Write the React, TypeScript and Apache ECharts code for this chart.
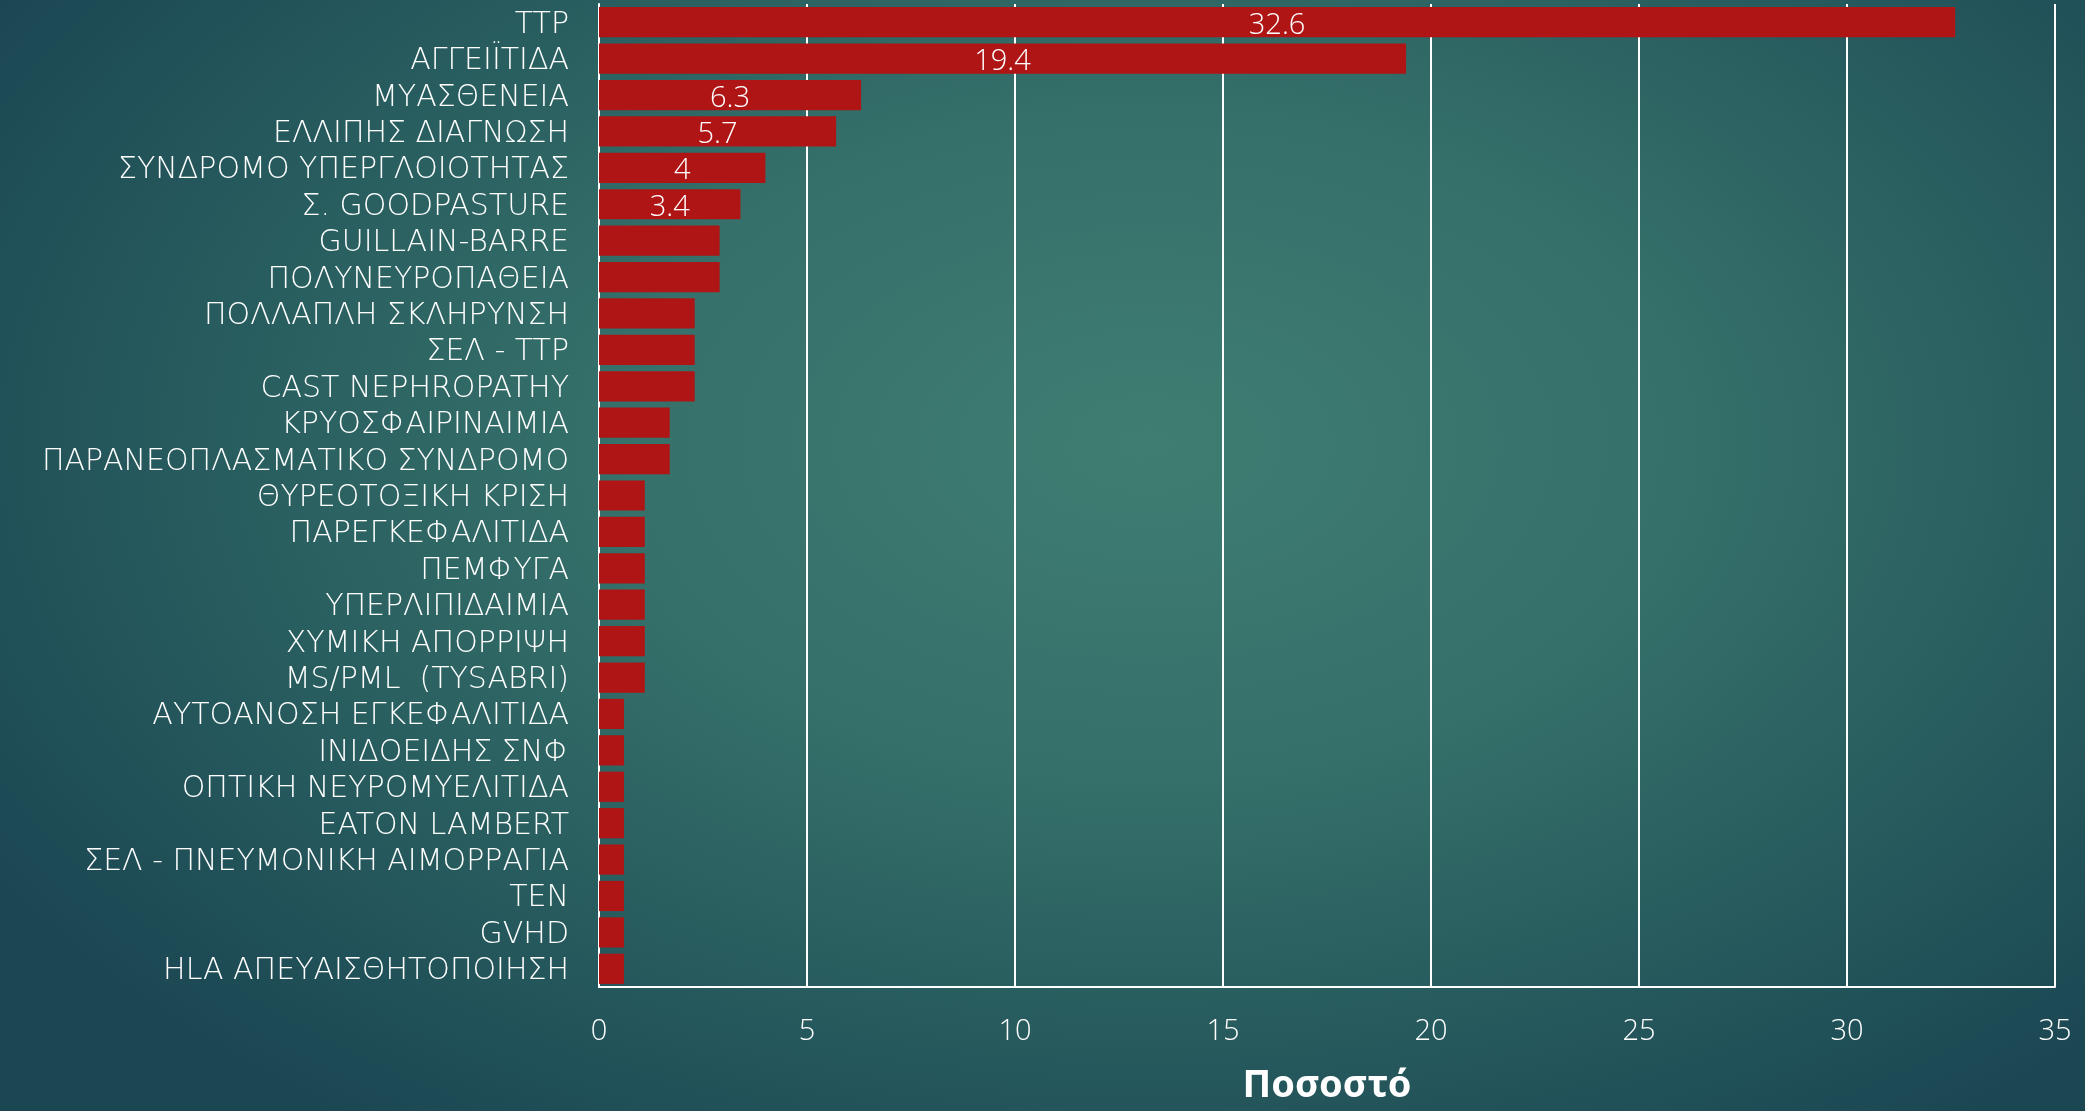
import React, { useEffect, useRef } from "react";
import * as echarts from "echarts";

const categories: string[] = [
  "TTP",
  "ΑΓΓΕΙΪΤΙΔΑ",
  "ΜΥΑΣΘΕΝΕΙΑ",
  "ΕΛΛΙΠΗΣ ΔΙΑΓΝΩΣΗ",
  "ΣΥΝΔΡΟΜΟ ΥΠΕΡΓΛΟΙΟΤΗΤΑΣ",
  "Σ. GOODPASTURE",
  "GUILLAIN-BARRE",
  "ΠΟΛΥΝΕΥΡΟΠΑΘΕΙΑ",
  "ΠΟΛΛΑΠΛΗ ΣΚΛΗΡΥΝΣΗ",
  "ΣΕΛ - TTP",
  "CAST NEPHROPATHY",
  "ΚΡΥΟΣΦΑΙΡΙΝΑΙΜΙΑ",
  "ΠΑΡΑΝΕΟΠΛΑΣΜΑΤΙΚΟ ΣΥΝΔΡΟΜΟ",
  "ΘΥΡΕΟΤΟΞΙΚΗ ΚΡΙΣΗ",
  "ΠΑΡΕΓΚΕΦΑΛΙΤΙΔΑ",
  "ΠΕΜΦΥΓΑ",
  "ΥΠΕΡΛΙΠΙΔΑΙΜΙΑ",
  "ΧΥΜΙΚΗ ΑΠΟΡΡΙΨΗ",
  "MS/PML  (TYSABRI)",
  "ΑΥΤΟΑΝΟΣΗ ΕΓΚΕΦΑΛΙΤΙΔΑ",
  "ΙΝΙΔΟΕΙΔΗΣ ΣΝΦ",
  "ΟΠΤΙΚΗ ΝΕΥΡΟΜΥΕΛΙΤΙΔΑ",
  "EATON LAMBERT",
  "ΣΕΛ - ΠΝΕΥΜΟΝΙΚΗ ΑΙΜΟΡΡΑΓΙΑ",
  "TEN",
  "GVHD",
  "HLA ΑΠΕΥΑΙΣΘΗΤΟΠΟΙΗΣΗ",
];

const values: number[] = [
  32.6, 19.4, 6.3, 5.7, 4, 3.4, 2.9, 2.9, 2.3, 2.3, 2.3, 1.7, 1.7, 1.1, 1.1, 1.1,
  1.1, 1.1, 1.1, 0.6, 0.6, 0.6, 0.6, 0.6, 0.6, 0.6, 0.6,
];

// which bars carry a value label
const labelled: boolean[] = values.map((_, i) => i < 6);

const xTicks = { min: 0, max: 35, interval: 5 };
const axisTitle = "Ποσοστό";

const FONT = "'Open Sans', 'Noto Sans', sans-serif";
const CAT_FONT = "'DejaVu Sans', 'Open Sans', sans-serif";

export default function App() {
  const ref = useRef<HTMLDivElement>(null);
  useEffect(() => {
    if (!ref.current) return;
    const chart = echarts.init(ref.current, undefined, { renderer: "svg" });
    chart.setOption({
      animation: false,
      backgroundColor: "transparent",
      grid: { left: 599, right: 30, top: 4, bottom: 124, containLabel: false },
      xAxis: {
        type: "value",
        min: xTicks.min,
        max: xTicks.max,
        interval: xTicks.interval,
        name: axisTitle,
        nameLocation: "middle",
        nameGap: 76,
        nameTextStyle: { color: "#ffffff", fontSize: 38, fontWeight: "bold", fontFamily: "'Noto Sans', sans-serif" },
        axisLine: { show: true, lineStyle: { color: "#ffffff", width: 2 } },
        axisTick: { show: false },
        axisLabel: { color: "#ffffff", fontSize: 29, fontWeight: 300, fontFamily: FONT, margin: 27 },
        splitLine: { show: true, lineStyle: { color: "#ffffff", width: 2 } },
      },
      yAxis: {
        type: "category",
        data: categories,
        inverse: true,
        axisLine: { show: true, lineStyle: { color: "#ffffff", width: 2 } },
        axisTick: { show: false },
        axisLabel: {
          interval: 0,
          color: "#ffffff",
          fontSize: 30,
          fontWeight: 200,
          fontFamily: CAT_FONT,
          margin: 30,
        },
      },
      series: [
        {
          type: "bar",
          barCategoryGap: "17%",
          data: values.map((v, i) => ({
            value: v,
            label: { show: labelled[i] },
          })),
          itemStyle: { color: "#b01515" },
          label: {
            position: "inside",
            color: "#ffffff",
            fontSize: 29,
            fontWeight: 300,
            fontFamily: FONT,
          },
        },
      ],
    });
    return () => chart.dispose();
  }, []);
  return (
    <div
      style={{
        position: "fixed",
        left: 0,
        top: 0,
        width: 2085,
        height: 1111,
        background:
          "radial-gradient(ellipse 65% 75% at 55% 40%, #3f7d72 0%, #35706a 40%, #25585c 75%, #1b4753 100%)",
      }}
    >
      <div ref={ref} style={{ width: 2085, height: 1111 }} />
    </div>
  );
}
